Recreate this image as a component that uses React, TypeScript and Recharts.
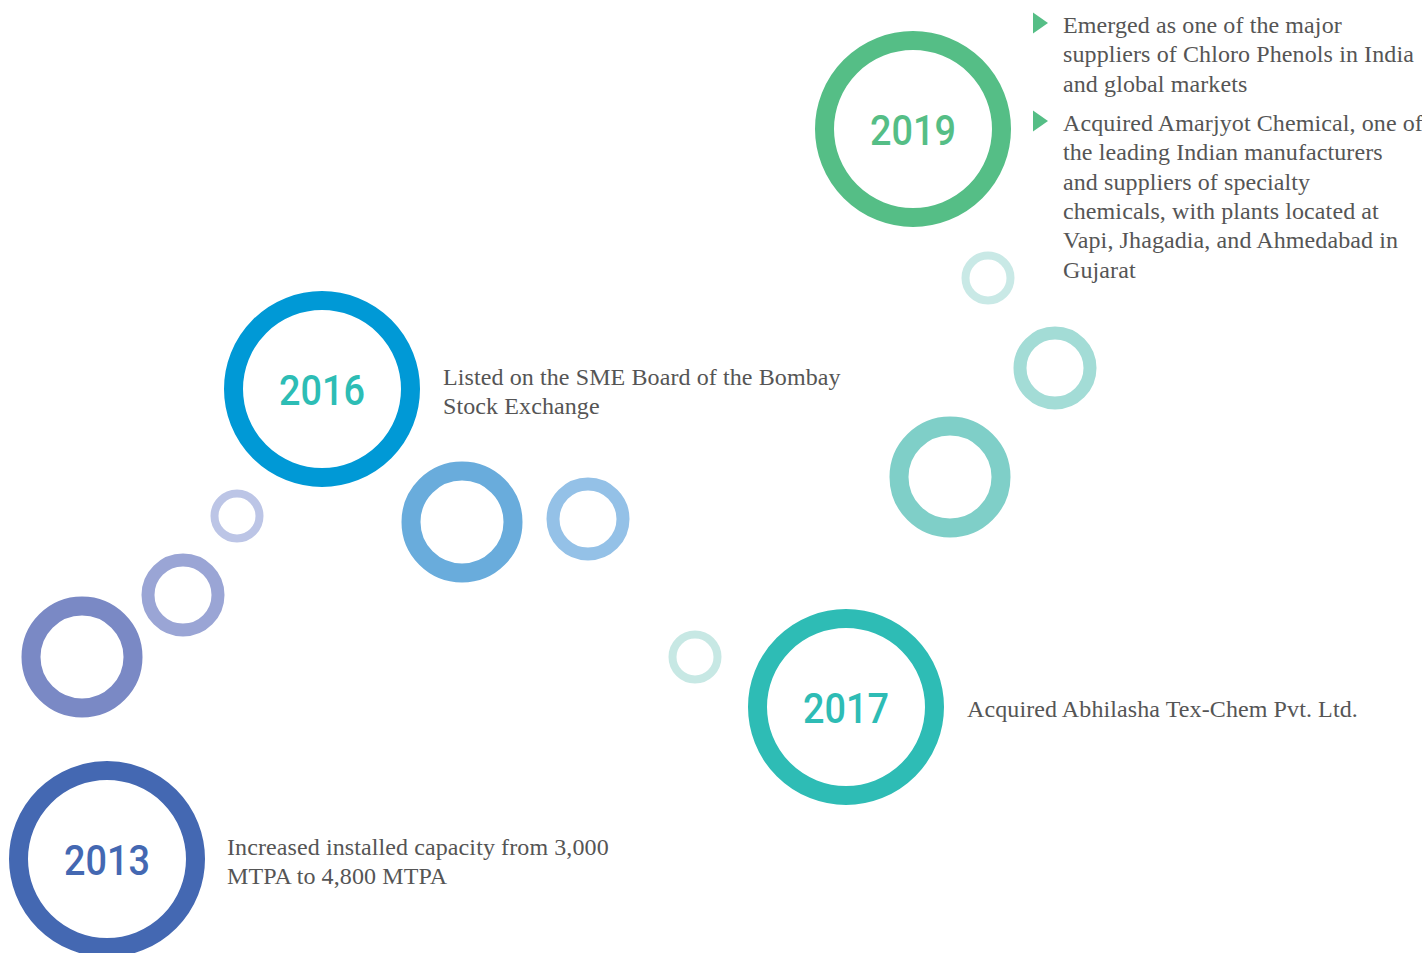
import { ScatterChart, Scatter, XAxis, YAxis } from 'recharts'

const W = 1422
const H = 953

// milestone years, ring centres in page units (x right, y down)
const years = ['2013', '2016', '2017', '2019']
const yearX = [107, 322, 846, 913]
const yearY = [859, 389, 707, 129]

// connector bubbles between the milestones
const bubbleX = [82, 183, 237, 462, 588, 695, 950, 1055, 988]
const bubbleY = [657, 595, 516, 522, 519, 657, 477, 368, 278]
const bubbleTier = ['l', 'm', 's', 'l', 'm', 's', 'l', 'm', 's']

// description texts, anchored at the first baseline
const notes = [
  ['Increased installed capacity from 3,000', 'MTPA to 4,800 MTPA'],
  ['Listed on the SME Board of the Bombay', 'Stock Exchange'],
  ['Acquired Abhilasha Tex-Chem Pvt. Ltd.'],
]
const noteX = [227, 443, 967]
const noteY = [855, 385, 717]

const bullets2019 = [
  ['Emerged as one of the major', 'suppliers of Chloro Phenols in India', 'and global markets'],
  [
    'Acquired Amarjyot Chemical, one of',
    'the leading Indian manufacturers',
    'and suppliers of specialty',
    'chemicals, with plants located at',
    'Vapi, Jhagadia, and Ahmedabad in',
    'Gujarat',
  ],
]
const bulletX = [1063, 1063]
const bulletY = [33, 131]

const YEAR_RING = ['#4468b2', '#0099d6', '#2ebcb5', '#55be86']
const YEAR_TEXT = ['#4468b2', '#2dbdb5', '#2ebcb5', '#55be86']
const BUBBLE_COLORS = ['#7a89c5', '#9aa5d5', '#bcc5e6', '#69acdc', '#94c1e7', '#c7e8e4', '#7fcfc8', '#a3dcd6', '#c9e9e6']
const TIERS: Record<string, { r: number; w: number }> = {
  l: { r: 51, w: 19 },
  m: { r: 35, w: 13 },
  s: { r: 22.5, w: 8 },
}
const BODY_FONT = '"Liberation Serif", "Times New Roman", serif'
const BODY_COLOR = '#555555'
const LINE_H = 29.3

const yearData = years.map((year, i) => ({ x: yearX[i], y: yearY[i], year, i }))
const bubbleData = bubbleX.map((x, i) => ({ x, y: bubbleY[i], tier: bubbleTier[i], i }))
const noteData = notes.map((lines, i) => ({ x: noteX[i], y: noteY[i], lines }))
const bulletData = bullets2019.map((lines, i) => ({ x: bulletX[i], y: bulletY[i], lines }))

function YearRing(props: any) {
  const { cx, cy, payload } = props
  return (
    <g>
      <circle cx={cx} cy={cy} r={88.5} fill="none" stroke={YEAR_RING[payload.i]} strokeWidth={19} />
      <text
        x={cx}
        y={cy + 16}
        textAnchor="middle"
        fill={YEAR_TEXT[payload.i]}
        fontFamily="Roboto, sans-serif"
        fontWeight={500}
        fontSize={42}
        textLength={86}
        lengthAdjust="spacingAndGlyphs"
      >
        {payload.year}
      </text>
    </g>
  )
}

function Bubble(props: any) {
  const { cx, cy, payload } = props
  const t = TIERS[payload.tier]
  return <circle cx={cx} cy={cy} r={t.r} fill="none" stroke={BUBBLE_COLORS[payload.i]} strokeWidth={t.w} />
}

function TextBlock({ cx, cy, lines }: { cx: number; cy: number; lines: string[] }) {
  return (
    <text x={cx} y={cy} fill={BODY_COLOR} fontFamily={BODY_FONT} fontSize={24} letterSpacing={0.1}>
      {lines.map((l, k) => (
        <tspan key={k} x={cx} y={cy + k * LINE_H}>
          {l}
        </tspan>
      ))}
    </text>
  )
}

function Note(props: any) {
  return <TextBlock cx={props.cx} cy={props.cy} lines={props.payload.lines} />
}

function Bullet(props: any) {
  const { cx, cy, payload } = props
  // little green arrow head left of the text
  const tx = cx - 30
  const ty = cy - 10
  return (
    <g>
      <path d={`M${tx},${ty - 10.5} L${tx + 15},${ty} L${tx},${ty + 10.5} Z`} fill="#55be86" />
      <TextBlock cx={cx} cy={cy} lines={payload.lines} />
    </g>
  )
}

export default function App() {
  return (
    <div style={{ position: 'absolute', left: 0, top: 0, width: W, height: H, background: '#fff' }}>
      <ScatterChart width={W} height={H} margin={{ top: 0, right: 0, bottom: 0, left: 0 }}>
        <XAxis type="number" dataKey="x" domain={[0, W]} hide />
        <YAxis type="number" dataKey="y" domain={[0, H]} reversed hide />
        <Scatter data={bubbleData} shape={Bubble} isAnimationActive={false} />
        <Scatter data={yearData} shape={YearRing} isAnimationActive={false} />
        <Scatter data={noteData} shape={Note} isAnimationActive={false} />
        <Scatter data={bulletData} shape={Bullet} isAnimationActive={false} />
      </ScatterChart>
    </div>
  )
}
